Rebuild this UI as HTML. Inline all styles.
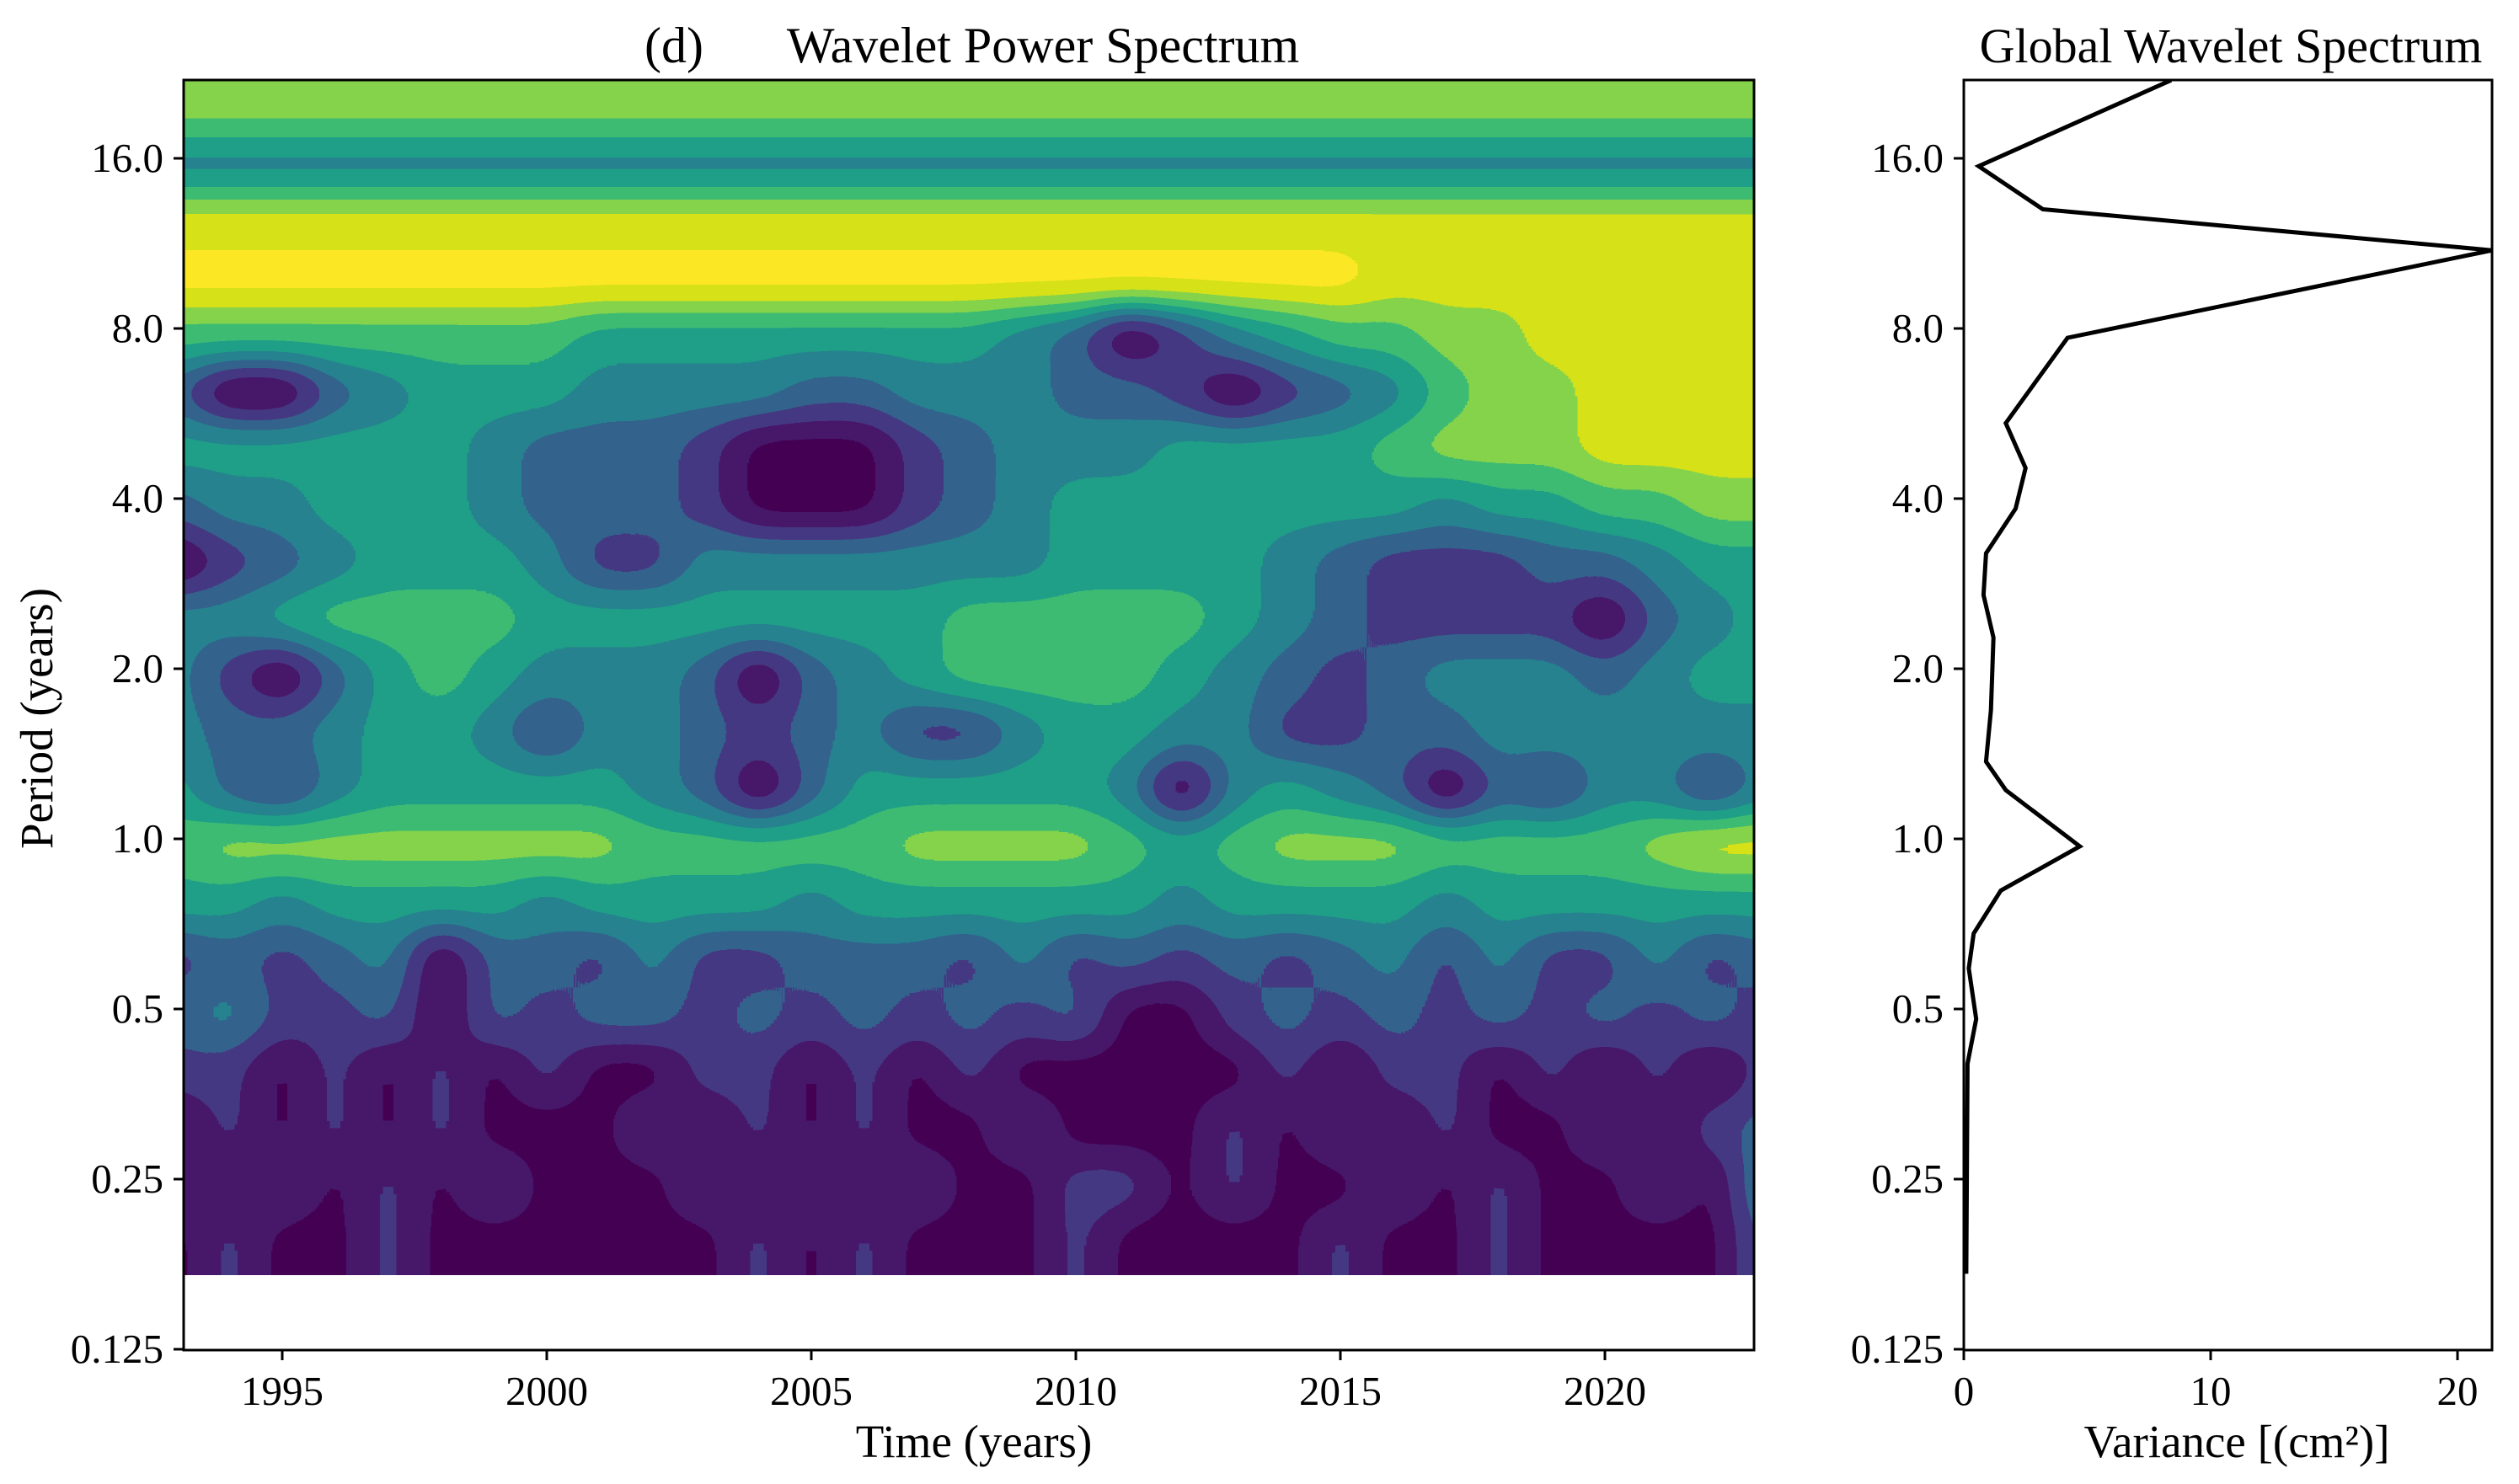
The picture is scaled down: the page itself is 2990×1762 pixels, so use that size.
<!DOCTYPE html>
<html><head><meta charset="utf-8">
<style>
html,body{margin:0;padding:0;background:#fff;}
svg{display:block;font-family:"Liberation Serif",serif;}
</style></head>
<body>
<svg id="fig" width="2990" height="1762" viewBox="0 0 2990 1762" xmlns="http://www.w3.org/2000/svg">
<defs>
<clipPath id="mainClip"><rect x="218" y="95" width="1864" height="1419"/></clipPath>
<clipPath id="gwsClip"><rect x="2331" y="95" width="627" height="1508"/></clipPath>
<filter id="contour" filterUnits="userSpaceOnUse" x="0" y="0" width="2300" height="1800" color-interpolation-filters="sRGB">
<feGaussianBlur stdDeviation="27 23"/>
<feComponentTransfer>
<feFuncR type="discrete" tableValues="0.267 0.282 0.271 0.200 0.149 0.122 0.247 0.518 0.847 0.992"/>
<feFuncG type="discrete" tableValues="0.004 0.094 0.220 0.388 0.510 0.627 0.737 0.831 0.886 0.906"/>
<feFuncB type="discrete" tableValues="0.329 0.416 0.510 0.553 0.557 0.533 0.451 0.294 0.098 0.145"/>
<feFuncA type="identity"/>
</feComponentTransfer>
</filter>
</defs>
<g id="mainCells" clip-path="url(#mainClip)"><g id="cellGroup" filter="url(#contour)"></g></g>
<g id="axes"></g>
</svg>
<script>
// ---- Wavelet power grid (levels 0..8), rows from long period (top) to short period (bottom), columns = years 1993..2023
const years = [1993,1994,1995,1996,1997,1998,1999,2000,2001,2002,2003,2004,2005,2006,2007,2008,2009,2010,2011,2012,2013,2014,2015,2016,2017,2018,2019,2020,2021,2022,2023];
const rowPeriodsLog2 = [4.293,3.96,3.627,3.293,2.96,2.627,2.293,1.96,1.627,1.293,0.96,0.627,0.293,-0.04,-0.373,-0.707,-1.04,-1.373,-1.707,-2.04,-2.373];
const powerRows = [
"6666666666666666666666666666666",
"3333333333333333333333333333333",
"7777777777777777777777777777777",
"8888888888888888888888877777777",
"5555555544444444320134556677777",
"2002344433332233322101235667777",
"4444443222100012333444456667777",
"2334443222100012344444443445566",
"0123444311333333344443211122344",
"3345555444444445555543211110234",
"3102454333202345555432123332344",
"3223443133212311344331122333333",
"4213444443202444443034320213313",
"5666666665555566665456665555677",
"4434444344443444444344443444444",
"1212302213112221312121231311312",
"2311202122121212120012121212121",
"1101010100110101000001011010101",
"0101010001010100100010101001012",
"1010101000101010011010010100103",
"0100100000010100010000100100002"
];
// ---- Global wavelet spectrum
const gwsPeriods = [22.0,15.5,13.0,11.0,7.7,5.44,4.53,3.84,3.2,2.7,2.27,1.69,1.37,1.22,0.97,0.81,0.68,0.59,0.48,0.40,0.17];
const gwsVariance = [8.4,0.6,3.2,21.4,4.2,1.7,2.5,2.1,0.9,0.8,1.2,1.1,0.9,1.7,4.7,1.5,0.4,0.2,0.5,0.15,0.1];
const yTickValues = [16,8,4,2,1,0.5,0.25,0.125];
const yTickLabels = ["16.0","8.0","4.0","2.0","1.0","0.5","0.25","0.125"];
const xTickYears = [1995,2000,2005,2010,2015,2020];
const gwsTicks = [0,10,20];

const NS="http://www.w3.org/2000/svg";
function mk(tag,attrs,parent){const e=document.createElementNS(NS,tag);for(const k in attrs)e.setAttribute(k,attrs[k]);parent.appendChild(e);return e;}
const yOf = p => 188 + 202*Math.log2(16/p);
const yOfLog = l => 188 + 202*(4 - l);
const xOfYear = y => 335 + 62.8*(y-1995);
const xOfVar = v => 2331 + 29.3*v;

const cg=document.getElementById('cellGroup');
const colW=62.8;
const rowH=202/3;
for(let r=0;r<powerRows.length;r++){
  const yc=yOfLog(rowPeriodsLog2[r]);
  let y0=yc-rowH/2, h=rowH;
  if(r===0){y0-=150;h+=150;}
  if(r===powerRows.length-1){h+=150;}
  for(let c=0;c<years.length;c++){
    const old=parseInt(powerRows[r][c]);
    const lvl= old===0?0:old+1;
    const g=Math.round((lvl+0.5)/10*255);
    const xc=xOfYear(years[c]);
    let x0=xc-colW/2,w=colW;
    if(c===0){x0-=150;w+=150;}
    if(c===years.length-1){w+=150;}
    const rc=mk('rect',{x:x0.toFixed(1),y:y0.toFixed(1),width:(w+0.6).toFixed(1),height:(h+0.6).toFixed(1),fill:`rgb(${g},${g},${g})`},cg);
    
    
  }
}

const ax=document.getElementById('axes');
const f1=mk('rect',{x:218,y:95,width:1864,height:1508,fill:'none',stroke:'#000','stroke-width':3},ax);

const f2=mk('rect',{x:2331,y:95,width:627,height:1508,fill:'none',stroke:'#000','stroke-width':3},ax);


for(let i=0;i<yTickValues.length;i++){
  const y=yOf(yTickValues[i]);
  [[218,'power'],[2331,'gws']].forEach(([x0,nm])=>{
    const t=mk('line',{x1:x0-12,y1:y,x2:x0,y2:y,stroke:'#000','stroke-width':3},ax);
    
    const tx=mk('text',{x:x0-24,y:y+16,'font-size':49,'text-anchor':'end',fill:'#000'},ax);
    tx.textContent=yTickLabels[i];
    
  });
}
xTickYears.forEach(yr=>{
  const x=xOfYear(yr);
  const t=mk('line',{x1:x,y1:1603,x2:x,y2:1615,stroke:'#000','stroke-width':3},ax);
  
  const tx=mk('text',{x:x,y:1668,'font-size':49,'text-anchor':'middle',fill:'#000'},ax);
  tx.textContent=String(yr);
  
});
gwsTicks.forEach(v=>{
  const x=xOfVar(v);
  const t=mk('line',{x1:x,y1:1603,x2:x,y2:1615,stroke:'#000','stroke-width':3},ax);
  
  const tx=mk('text',{x:x,y:1668,'font-size':49,'text-anchor':'middle',fill:'#000'},ax);
  tx.textContent=String(v);
  
});
const g2=mk('g',{'clip-path':'url(#gwsClip)'},ax);
const pts=gwsPeriods.map((p,i)=>xOfVar(gwsVariance[i]).toFixed(1)+','+yOf(p).toFixed(1)).join(' ');
const pl=mk('polyline',{points:pts,fill:'none',stroke:'#000','stroke-width':5,'stroke-linejoin':'miter'},g2);


function label(txt,x,y,size,name,rot){
  const a={x:x,y:y,'font-size':size,'text-anchor':'middle',fill:'#000'};
  if(rot)a.transform=`rotate(-90 ${x} ${y})`;
  const t=mk('text',a,ax);t.textContent=txt;
  
}
label('(d)',800,74,60,'panel-label');
label('Wavelet Power Spectrum',1238,74,60,'power-title');
label('Global Wavelet Spectrum',2648,74,58,'gws-title');
label('Time (years)',1156,1730,55,'x-axis-title');
label('Variance [(cm²)]',2655,1730,55,'gws-x-axis-title');
label('Period (years)',62,853,55,'y-axis-title',true);
</script>
</body></html>
